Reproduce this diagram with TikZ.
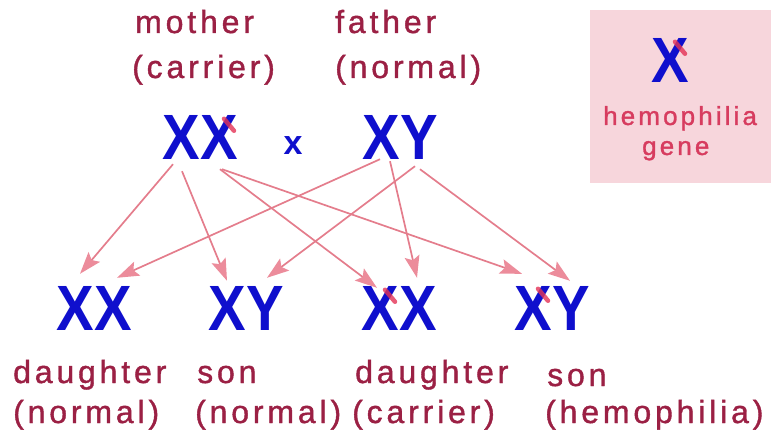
\documentclass[tikz,border=0pt]{standalone}
\usepackage{fontspec}
\usepackage{graphicx}
\setmainfont{Liberation Sans}
\newfontfamily\labfont[LetterSpace=12,FakeBold=1.2]{Liberation Sans}
\usetikzlibrary{arrows.meta,calc}
\definecolor{chromblue}{RGB}{15,15,205}
\definecolor{labred}{RGB}{155,32,68}
\definecolor{legred}{RGB}{215,60,95}
\definecolor{legfill}{RGB}{247,214,220}
\definecolor{arrowpink}{RGB}{228,125,140}
\definecolor{headpink}{RGB}{236,140,155}
\definecolor{markred}{RGB}{228,50,85}
\begin{document}
\begin{tikzpicture}[x=1pt,y=-1pt,
  chrom/.style={inner sep=0pt, text=chromblue, font=\fontsize{64}{64}\selectfont\bfseries},
  lab/.style={anchor=base west, inner sep=0pt, text=labred, font=\labfont\fontsize{32}{32}\selectfont},
  leglab/.style={anchor=base west, inner sep=0pt, text=legred, font=\labfont\fontsize{26}{26}\selectfont},
  conn/.style={draw=arrowpink, line width=1.7pt, -{Stealth[length=22pt,width=15pt,inset=4pt,fill=headpink,color=headpink]}},
  genemark/.style={draw=markred, line width=4.5pt, line cap=round, opacity=0.8}]
\useasboundingbox (0,0) rectangle (773,438);
% legend box
\node[fill=legfill, inner sep=0pt, minimum width=181pt, minimum height=173pt, anchor=north west] (legend) at (590,10) {};
\node[chrom] (legx) at (670,60) {\scalebox{0.88}[1]{X}};
\draw[genemark] ($(legx.north)+(5,4)$) -- ($(legx.north)+(15,16)$);
\node[leglab] (leg1) at (603,125) {hemophilia};
\node[leglab] (leg2) at (642,155) {gene};
% parents
\node[lab] (lm1) at (135,33) {mother};
\node[lab] (lm2) at (132,78) {(carrier)};
\node[lab] (lf1) at (335,33) {father};
\node[lab] (lf2) at (335,78) {(normal)};
\node[chrom] (mom) at (200,137) {\scalebox{0.88}[1]{XX}};
\node[chrom] (dad) at (400,137) {\scalebox{0.88}[1]{XY}};
\node[inner sep=0pt, text=chromblue, font=\fontsize{34}{34}\selectfont\bfseries] (cross) at (293,146) {x};
\draw[genemark] ($(mom.north)+(24,4)$) -- ($(mom.north)+(34,16)$);
% children
\node[chrom] (c1) at (94,308) {\scalebox{0.88}[1]{XX}};
\node[chrom] (c2) at (246,308) {\scalebox{0.88}[1]{XY}};
\node[chrom] (c3) at (399,308) {\scalebox{0.88}[1]{XX}};
\node[chrom] (c4) at (552,308) {\scalebox{0.88}[1]{XY}};
\draw[genemark] ($(c3.north)+(-14,4)$) -- ($(c3.north)+(-4,16)$);
\draw[genemark] ($(c4.north)+(-14,3)$) -- ($(c4.north)+(-4,15)$);
\node[lab] (l11) at (13,383) {daughter};
\node[lab] (l12) at (13,423) {(normal)};
\node[lab] (l21) at (197,383) {son};
\node[lab] (l22) at (195,423) {(normal)};
\node[lab] (l31) at (355,383) {daughter};
\node[lab] (l32) at (352,423) {(carrier)};
\node[lab] (l41) at (547,386) {son};
\node[lab] (l42) at (545,423) {(hemophilia)};
% connectors
\draw[conn] ($(mom.south)+(-27,5)$) -- ($(c1.north)+(-14,-12)$);
\draw[conn] ($(mom.south)+(-18,12)$) -- ($(c2.north)+(-19,-5)$);
\draw[conn] ($(mom.south)+(20,10)$) -- ($(c3.north)+(-22,2)$);
\draw[conn] ($(mom.south)+(22,10)$) -- ($(c4.north)+(-30,-12)$);
\draw[conn] ($(dad.south)+(-20,0)$) -- ($(c1.north)+(23,-8)$);
\draw[conn] ($(dad.south)+(15,7)$) -- ($(c2.north)+(21,-8)$);
\draw[conn] ($(dad.south)+(-10,2)$) -- ($(c3.north)+(18,-8)$);
\draw[conn] ($(dad.south)+(20,10)$) -- ($(c4.north)+(18,-5)$);
\end{tikzpicture}
\end{document}
